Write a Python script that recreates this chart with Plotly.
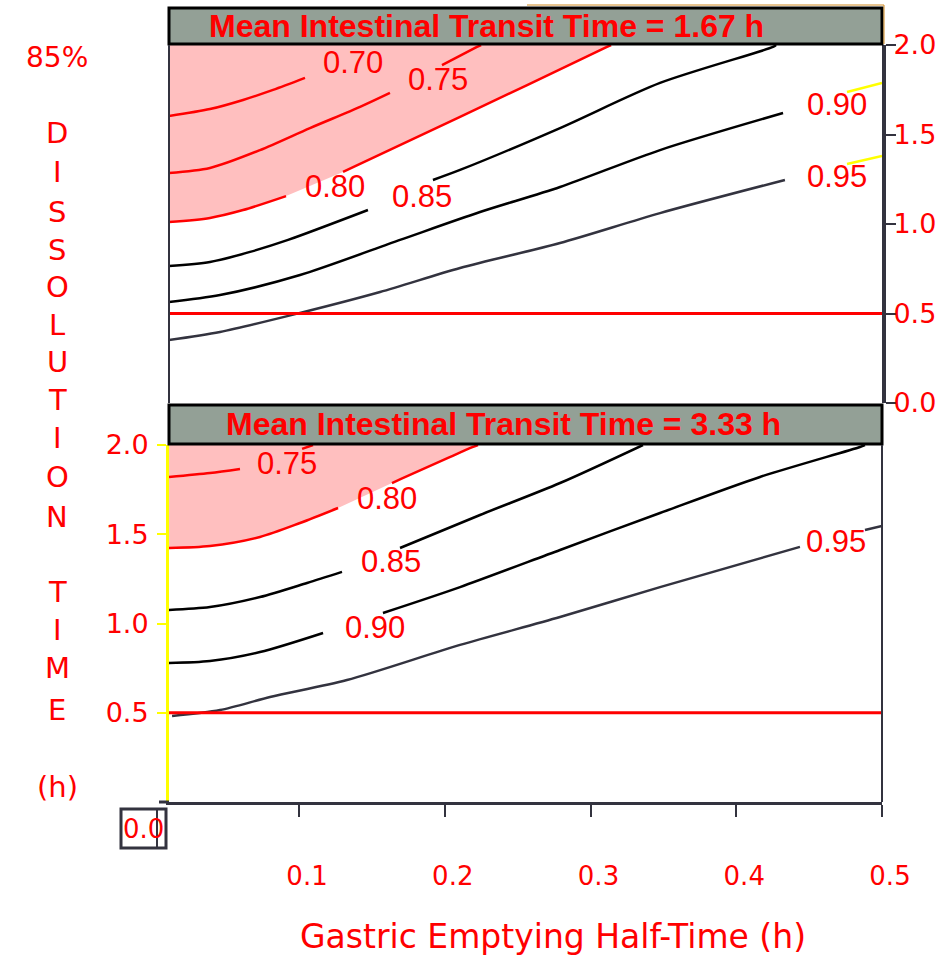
import plotly.graph_objects as go

# ---------------- data (x: gastric emptying half-time h, y: 85% dissolution time h) ----------------
X_RANGE = [0.0108, 0.5]
Y_RANGE = [0.0, 2.0]
x_tick_vals = [0.1, 0.2, 0.3, 0.4, 0.5]
x_tick_text = ["0.1", "0.2", "0.3", "0.4", "0.5"]
y_tick_vals_top = [0.0, 0.5, 1.0, 1.5, 2.0]
y_tick_text_top = ["0.0", "0.5", "1.0", "1.5", "2.0"]
y_tick_vals_bot = [0.5, 1.0, 1.5, 2.0]
y_tick_text_bot = ["0.5", "1.0", "1.5", "2.0"]

panel_titles = ["Mean Intestinal Transit Time = 1.67 h", "Mean Intestinal Transit Time = 3.33 h"]
ref_line_x = [0.0108, 0.5]
ref_line_y = [0.5, 0.5]

# --- top panel (MITT = 1.67 h) contour segments ---
t070_x = [0.0108, 0.0389, 0.0616, 0.0822, 0.1041]
t070_y = [1.603, 1.642, 1.693, 1.749, 1.816]
t075a_x = [0.0108, 0.0389, 0.0732, 0.1075, 0.1419, 0.1624]
t075a_y = [1.285, 1.313, 1.413, 1.536, 1.654, 1.732]
t075b_x = [0.1981, 0.2221, 0.2249]
t075b_y = [1.888, 1.989, 2.0]
t080a_x = [0.0108, 0.0389, 0.0616, 0.0911]
t080a_y = [1.011, 1.034, 1.078, 1.156]
t080b_x = [0.1302, 0.2105, 0.3113, 0.3141]
t080b_y = [1.291, 1.598, 1.989, 2.0]
t085a_x = [0.0108, 0.0389, 0.0664, 0.0925, 0.1473]
t085a_y = [0.765, 0.788, 0.844, 0.911, 1.078]
t085b_x = [0.1919, 0.2105, 0.2791, 0.3477, 0.4252, 0.4273]
t085b_y = [1.246, 1.302, 1.536, 1.788, 1.989, 2.0]
t090a_x = [0.0108, 0.0458, 0.1007, 0.1693, 0.2242, 0.2791, 0.3477, 0.4321]
t090a_y = [0.564, 0.603, 0.715, 0.911, 1.067, 1.207, 1.413, 1.620]
t090b_x = [0.4760, 0.5]
t090b_y = [1.737, 1.788]
t095a_x = [0.0108, 0.0458, 0.1007, 0.1556, 0.2105, 0.2791, 0.3477, 0.4334]
t095a_y = [0.352, 0.397, 0.503, 0.620, 0.754, 0.894, 1.061, 1.246]
t095b_x = [0.4760, 0.5]
t095b_y = [1.335, 1.380]
top_label_text = ["0.70", "0.75", "0.80", "0.85", "0.90", "0.95"]
top_label_x = [0.1371, 0.1954, 0.1247, 0.1844, 0.4691, 0.4691]
top_label_y = [1.905, 1.810, 1.212, 1.156, 1.665, 1.268]

# --- bottom panel (MITT = 3.33 h) contour segments ---
b075a_x = [0.0108, 0.0389, 0.0595]
b075a_y = [1.821, 1.843, 1.866]
b075b_x = [0.1021, 0.1096]
b075b_y = [1.978, 2.0]
b080a_x = [0.0108, 0.0389, 0.0732, 0.1007, 0.1268]
b080a_y = [1.423, 1.434, 1.485, 1.563, 1.647]
b080b_x = [0.1638, 0.2194, 0.2228]
b080b_y = [1.787, 1.989, 2.0]
b085a_x = [0.0108, 0.0389, 0.0732, 0.1055, 0.1295]
b085a_y = [1.076, 1.092, 1.148, 1.227, 1.289]
b085b_x = [0.1693, 0.2242, 0.2791, 0.3360]
b085b_y = [1.423, 1.608, 1.787, 2.0]
b090a_x = [0.0108, 0.0389, 0.0732, 0.1165]
b090a_y = [0.779, 0.790, 0.840, 0.947]
b090b_x = [0.1576, 0.2105, 0.2791, 0.3477, 0.4163, 0.4849, 0.4883]
b090b_y = [1.059, 1.204, 1.412, 1.619, 1.821, 1.989, 2.0]
b095a_x = [0.0129, 0.0458, 0.0801, 0.1329, 0.2105, 0.2791, 0.3477, 0.4437]
b095a_y = [0.482, 0.515, 0.588, 0.683, 0.880, 1.036, 1.204, 1.429]
b095b_x = [0.4883, 0.5]
b095b_y = [1.524, 1.546]
bot_label_text = ["0.75", "0.80", "0.85", "0.90", "0.95"]
bot_label_x = [0.0918, 0.1604, 0.1631, 0.1521, 0.4684]
bot_label_y = [1.894, 1.703, 1.345, 0.980, 1.462]

left_title_chars = ["D", "I", "S", "S", "O", "L", "U", "T", "I", "O", "N", "T", "I", "M", "E", "(h)"]

# ---------------- styling ----------------
RED = "#FF0000"
BLACK = "#000000"
DARK = "#33333F"
PINK = "#FFBFBF"
BAR = "#93A096"
YELLOW = "#FFFF00"
AX = "#33333F"
SANS = "DejaVu Sans, Verdana, sans-serif"
ARIAL = "Liberation Sans, Arial, sans-serif"

W, H = 943, 955
L, R, T, B = 169, 882, 45, 802


def px_x(px):
    return (px - L) / (R - L)


def px_y(py):
    return (B - py) / (B - T)


fig = go.Figure()


def seg(xs, ys, color, xa, ya, width=2.5):
    fig.add_trace(go.Scatter(x=xs, y=ys, mode="lines", xaxis=xa, yaxis=ya,
                             line=dict(color=color, width=width, shape="spline", smoothing=0.8),
                             hoverinfo="skip", showlegend=False))


def fill(xs, ys, xa, ya):
    fig.add_trace(go.Scatter(x=[X_RANGE[0]] + xs, y=[Y_RANGE[1]] + ys, mode="lines",
                             fill="toself", fillcolor=PINK, line=dict(width=0, color=PINK),
                             xaxis=xa, yaxis=ya, hoverinfo="skip", showlegend=False))


# top panel
fill(t080a_x + t080b_x, t080a_y + t080b_y, "x", "y")
seg(t070_x, t070_y, RED, "x", "y")
seg(t075a_x, t075a_y, RED, "x", "y")
seg(t075b_x, t075b_y, RED, "x", "y")
seg(t080a_x, t080a_y, RED, "x", "y")
seg(t080b_x, t080b_y, RED, "x", "y")
seg(t085a_x, t085a_y, BLACK, "x", "y")
seg(t085b_x, t085b_y, BLACK, "x", "y")
seg(t090a_x, t090a_y, BLACK, "x", "y")
seg(t090b_x, t090b_y, YELLOW, "x", "y")
seg(t095a_x, t095a_y, DARK, "x", "y")
seg(t095b_x, t095b_y, YELLOW, "x", "y")
seg(ref_line_x, ref_line_y, RED, "x", "y", width=3)

# bottom panel
fill(b080a_x + b080b_x, b080a_y + b080b_y, "x2", "y2")
seg(b075a_x, b075a_y, RED, "x2", "y2")
seg(b075b_x, b075b_y, RED, "x2", "y2")
seg(b080a_x, b080a_y, RED, "x2", "y2")
seg(b080b_x, b080b_y, RED, "x2", "y2")
seg(b085a_x, b085a_y, BLACK, "x2", "y2")
seg(b085b_x, b085b_y, BLACK, "x2", "y2")
seg(b090a_x, b090a_y, BLACK, "x2", "y2")
seg(b090b_x, b090b_y, BLACK, "x2", "y2")
seg(b095a_x, b095a_y, DARK, "x2", "y2")
seg(b095b_x, b095b_y, DARK, "x2", "y2")
seg(ref_line_x, ref_line_y, RED, "x2", "y2", width=3)

top_dom = [px_y(403), 1.0]
bot_dom = [0.0, px_y(445)]
top_h = 403 - 45
bot_h = 802 - 445


def ann(text, x, y, xref, yref, family, size, bold=False):
    f = dict(family=family, size=size, color=RED)
    if bold:
        f["weight"] = "bold"
    return dict(text=text, x=x, y=y, xref=xref, yref=yref, showarrow=False,
                xanchor="center", yanchor="middle", font=f)


annotations = []
for txt, xv, yv in zip(top_label_text, top_label_x, top_label_y):
    annotations.append(ann(txt, xv, yv, "x", "y", ARIAL, 31))
for txt, xv, yv in zip(bot_label_text, bot_label_x, bot_label_y):
    annotations.append(ann(txt, xv, yv, "x2", "y2", ARIAL, 31))

# panel titles (inside gray bars)
annotations.append(ann(panel_titles[0], px_x(486), (403 - 26) / top_h, "x domain", "y domain", ARIAL, 32, True))
annotations.append(ann(panel_titles[1], px_x(503), (802 - 424) / bot_h, "x2 domain", "y2 domain", ARIAL, 32, True))

# left vertical title
left_y = [133, 172, 212, 250, 287, 325, 362, 400, 438, 477, 517, 592, 630, 668, 710, 787]
annotations.append(ann("85%", px_x(57), px_y(57), "paper", "paper", SANS, 28))
for ch, yy in zip(left_title_chars, left_y):
    annotations.append(ann(ch, px_x(57), px_y(yy), "paper", "paper", SANS, 29))
# boxed origin label
annotations.append(ann("0.0", px_x(143), px_y(829), "paper", "paper", SANS, 26))
# x axis title
annotations.append(ann("Gastric Emptying Half-Time (h)", px_x(553), px_y(937), "paper", "paper", SANS, 33))

shapes = [
    dict(type="rect", xref="x domain", yref="y domain", x0=0, x1=1,
         y0=1 + 1 / top_h, y1=1 + 37 / top_h, fillcolor=BAR, line=dict(color=BLACK, width=3), layer="above"),
    dict(type="rect", xref="x2 domain", yref="y2 domain", x0=0, x1=1,
         y0=1 + 1 / bot_h, y1=1 + 40 / bot_h, fillcolor=BAR, line=dict(color=BLACK, width=3), layer="above"),
    dict(type="line", xref="x domain", yref="y domain", x0=0, x1=0, y0=0, y1=1,
         line=dict(color=AX, width=2), layer="above"),
    dict(type="line", xref="x2 domain", yref="y2 domain", x0=1, x1=1, y0=0, y1=1,
         line=dict(color=AX, width=2), layer="above"),
    dict(type="line", xref="paper", yref="paper", x0=px_x(159), x1=0, y0=0, y1=0,
         line=dict(color=AX, width=3), layer="above"),
    dict(type="rect", xref="paper", yref="paper", x0=px_x(121), x1=px_x(166), y0=px_y(848), y1=px_y(809),
         line=dict(color=AX, width=3), fillcolor="rgba(0,0,0,0)"),
    dict(type="line", xref="paper", yref="paper", x0=px_x(157), x1=px_x(157), y0=px_y(848), y1=px_y(809),
         line=dict(color=AX, width=2)),
    dict(type="path", xref="paper", yref="paper",
         path=f"M {px_x(527)} {px_y(5)} L {px_x(884)} {px_y(5)} L {px_x(884)} {px_y(44)}",
         line=dict(color="#D08A20", width=1)),
]

fig.update_layout(
    width=W, height=H,
    margin=dict(l=L, r=W - R, t=T, b=H - B, autoexpand=False),
    paper_bgcolor="white", plot_bgcolor="white",
    showlegend=False,
    xaxis=dict(domain=[0, 1], anchor="y", range=X_RANGE, showgrid=False, zeroline=False, automargin=False,
               showticklabels=False, ticks="", showline=False),
    xaxis2=dict(domain=[0, 1], anchor="y2", range=X_RANGE, showgrid=False, zeroline=False, automargin=False,
                tickvals=x_tick_vals, ticktext=x_tick_text, ticks="outside", ticklen=12, tickwidth=2,
                tickcolor=AX, showline=True, linewidth=3, linecolor=AX,
                tickfont=dict(family=SANS, size=26, color=RED),
                ticklabelstandoff=37, ticklabelshift=8),
    yaxis=dict(domain=top_dom, anchor="x", side="right", range=Y_RANGE, showgrid=False, zeroline=False,
               automargin=False,
               tickvals=y_tick_vals_top, ticktext=y_tick_text_top, ticks="outside", ticklen=10,
               tickwidth=2, tickcolor=AX, showline=True, linewidth=4, linecolor=AX,
               tickfont=dict(family=SANS, size=27, color=RED), ticklabelstandoff=-8),
    yaxis2=dict(domain=bot_dom, anchor="x2", side="left", range=Y_RANGE, showgrid=False, zeroline=False,
                automargin=False,
                tickvals=y_tick_vals_bot, ticktext=y_tick_text_bot, ticks="outside", ticklen=9,
                tickwidth=2, tickcolor=YELLOW, showline=True, linewidth=3, linecolor=YELLOW,
                tickfont=dict(family=SANS, size=27, color=RED), ticklabelstandoff=3),
    shapes=shapes,
    annotations=annotations,
)

fig.write_html("out.html", config={"displayModeBar": False},
               post_script="document.body.style.margin='0';document.body.style.overflow='hidden';")
